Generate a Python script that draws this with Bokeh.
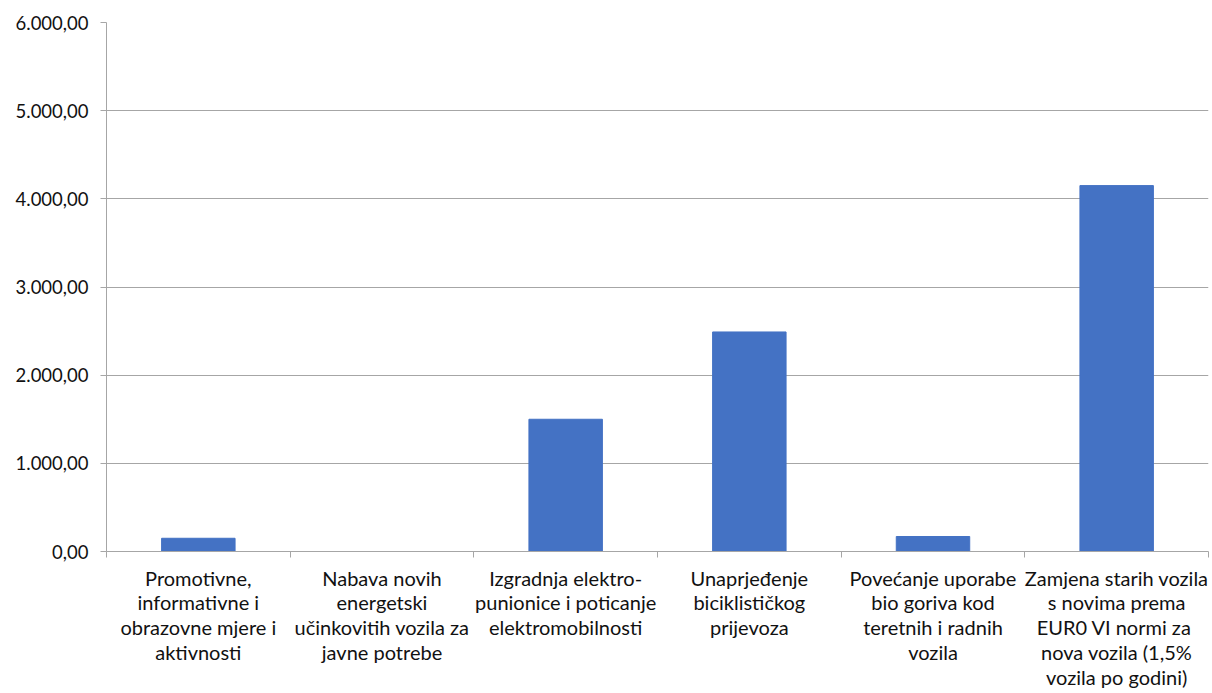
from bokeh.plotting import figure
from bokeh.models import FixedTicker, Range1d
from bokeh.embed import file_html
from bokeh.resources import INLINE

categories = [
    "Promotivne,\ninformativne i\nobrazovne mjere i\naktivnosti",
    "Nabava novih\nenergetski\nučinkovitih vozila za\njavne potrebe",
    "Izgradnja elektro-\npunionice i poticanje\nelektromobilnosti",
    "Unaprjeđenje\nbiciklističkog\nprijevoza",
    "Povećanje uporabe\nbio goriva kod\nteretnih i radnih\nvozila",
    "Zamjena starih vozila\ns novima prema\nEUR0 VI  normi za\nnova vozila (1,5%\nvozila po godini)",
]
values = [150, 0, 1500, 2490, 170, 4150]
y_ticks = [0, 1000, 2000, 3000, 4000, 5000, 6000]
y_tick_labels = ["0,00", "1.000,00", "2.000,00", "3.000,00", "4.000,00", "5.000,00", "6.000,00"]

n = len(categories)
x_centers = [i + 0.5 for i in range(n)]
x_bounds = list(range(n + 1))

FONT = "Lato"
GRAY = "#a6a6a6"
TEXT = "#111111"

p = figure(width=1210, height=692, x_range=Range1d(0, n), y_range=Range1d(0, 6000),
           output_backend="svg", toolbar_location=None,
           min_border_left=106, min_border_right=2, min_border_top=22, min_border_bottom=140)
p.outline_line_color = None
p.background_fill_color = "white"
p.border_fill_color = "white"

p.vbar(x=x_centers, top=values, width=0.4, fill_color="#4472C4", line_color="#4472C4")

p.xgrid.grid_line_color = None
p.ygrid.grid_line_color = GRAY
p.ygrid.grid_line_width = 1
p.ygrid.ticker = FixedTicker(ticks=y_ticks)

ya = p.yaxis[0]
ya.ticker = FixedTicker(ticks=y_ticks)
ya.major_label_overrides = {t: l for t, l in zip(y_ticks, y_tick_labels)}
ya.axis_line_color = GRAY
ya.major_tick_line_color = GRAY
ya.major_tick_out = 6
ya.major_tick_in = 0
ya.minor_tick_line_color = None
ya.major_label_standoff = 12
ya.major_label_text_font = FONT
ya.major_label_text_font_size = "18.5px"
ya.major_label_text_color = TEXT

xa = p.xaxis[0]
xa.ticker = FixedTicker(ticks=x_centers, minor_ticks=x_bounds)
xa.major_label_overrides = {c: l for c, l in zip(x_centers, categories)}
xa.axis_line_color = GRAY
xa.major_tick_line_color = None
xa.major_tick_out = 0
xa.major_tick_in = 0
xa.minor_tick_line_color = GRAY
xa.minor_tick_out = 6
xa.minor_tick_in = 0
xa.major_label_standoff = 8
xa.major_label_text_font = FONT
xa.major_label_text_font_size = "20px"
xa.major_label_text_color = TEXT
xa.major_label_text_line_height = 1.04
xa.major_label_text_align = "center"

open("out.html", "w").write(file_html(p, INLINE))
